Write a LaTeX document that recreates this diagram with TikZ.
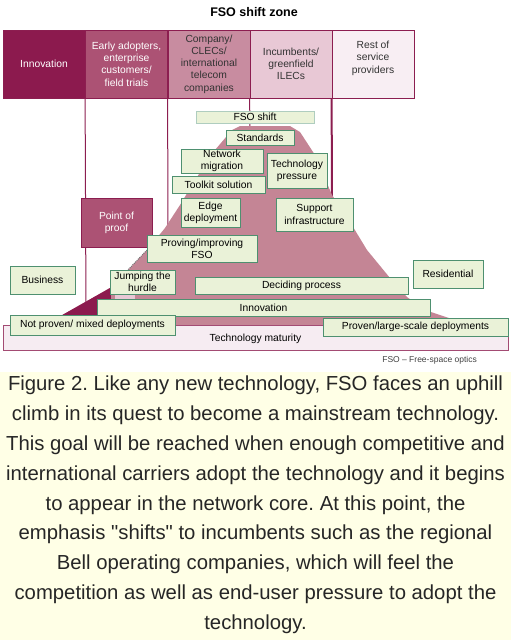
\documentclass[tikz,border=0pt]{standalone}
\usepackage{fontspec}
\setmainfont{Liberation Sans}
\frenchspacing
\definecolor{innovcol}{RGB}{140,26,78}
\definecolor{earlycol}{RGB}{172,82,116}
\definecolor{compcol}{RGB}{200,140,160}
\definecolor{incumbcol}{RGB}{232,200,213}
\definecolor{restcol}{RGB}{248,238,243}
\definecolor{zoneedge}{RGB}{140,30,80}
\definecolor{hillcol}{RGB}{196,133,149}
\definecolor{boxfill}{RGB}{234,242,216}
\definecolor{boxedge}{RGB}{78,144,112}
\definecolor{maturefill}{RGB}{246,236,242}
\definecolor{capbg}{RGB}{255,255,230}
\tikzset{
  every node/.style={
    inner sep=0pt,
    align=center,
    font=\fontsize{10.3}{12.3}\selectfont
  },
  zonebox/.style={
    draw=zoneedge,
    line width=0.8pt,
    minimum width=82pt,
    minimum height=68pt
  },
  greenbox/.style={
    draw=boxedge,
    fill=boxfill,
    line width=1pt
  },
  zoneline/.style={
    draw=zoneedge,
    line width=1pt
  }
}
\def\fsohill{(57,326) -- (57,318) -- (110,288) -- (128,270) -- (147,250) -- (165,228)
  -- (180,205) -- (195,180) -- (215,150) -- (232,130) -- (240,126) -- (290,126)
  -- (300,132) -- (315,155) -- (332,195) -- (350,222) -- (367,250) -- (390,278)
  -- (407,297) -- (425,310) -- (455,320) -- (455,326) -- cycle}

\begin{document}
\begin{tikzpicture}[x=1pt,y=-1pt]
  \useasboundingbox (0,0) rectangle (511,640);
  \fill[capbg] (0,372) rectangle (511,640);

  \node[font=\fontsize{12.5}{14}\selectfont\bfseries] (title) at (254,12) {FSO shift zone};

  \node[zonebox, fill=innovcol, text=white] (innov) at (44,64) {Innovation};
  \node[zonebox, fill=earlycol, text=white] (early) at (126.5,64) {Early adopters,\\enterprise\\customers/\\field trials};
  \node[zonebox, fill=compcol, text=black!80] (compco) at (209,64) {Company/\\CLECs/\\international\\telecom\\companies};
  \node[zonebox, fill=incumbcol, text=black!80] (incumb) at (291,64) {Incumbents/\\greenfield\\ILECs};
  \node[zonebox, fill=restcol, text=black!80, text depth=14pt] (rest) at (373,64) {Rest of\\service\\providers};

  \coordinate (earlyend) at (86,315);
  \coordinate (compend) at (168,235);
  \coordinate (incumbend) at (250,130);
  \coordinate (restend) at (332,198);
  \draw[zoneline] (early.south west) -- (earlyend);
  \draw[zoneline] (compco.south west) -- (compend);
  \draw[zoneline] (incumb.south west) -- (incumbend);
  \draw[zoneline, line width=2pt] (rest.south west) -- (restend);

  \fill[hillcol] \fsohill;
  \begin{scope}
    \clip \fsohill;
    \fill[innovcol] (0,280) rectangle (111,330);
  \end{scope}
  \draw[black!55, densely dotted, line width=1pt] (147,250) -- (126,272);
  \fill[incumbcol] (115,294) rectangle (135,299);

  \node[draw=zoneedge!80, fill=maturefill, line width=1pt, minimum width=505pt, minimum height=25pt,
    text height=7pt, text depth=-6pt] (maturity) at (255.5,337.5) {Technology maturity};

  \node[greenbox, draw=boxedge!45, minimum width=118pt, minimum height=12pt] (shift) at (255,117) {FSO shift};
  \node[greenbox, minimum width=68pt, minimum height=15pt] (std) at (260,137.5) {Standards};
  \node[greenbox, minimum width=82pt, minimum height=24pt] (netmig) at (222,161) {Network\\migration};
  \node[greenbox, minimum width=60pt, minimum height=35pt] (techpress) at (297,170.5) {Technology\\pressure};
  \node[greenbox, minimum width=93pt, minimum height=17pt] (toolkit) at (218.5,184.5) {Toolkit solution};
  \node[greenbox, minimum width=59pt, minimum height=29pt] (edge) at (210.5,212.5) {Edge\\deployment};
  \node[greenbox, minimum width=77pt, minimum height=33pt] (support) at (314.5,214.5) {Support\\infrastructure};
  \node[draw=zoneedge, fill=earlycol, text=white, line width=1pt, minimum width=71pt, minimum height=49pt] (proof) at (116.5,222.5) {Point of\\proof};
  \node[greenbox, minimum width=110pt, minimum height=27pt] (proving) at (202,248.5) {Proving/improving\\FSO};
  \node[greenbox, minimum width=65pt, minimum height=28pt] (business) at (42.5,280) {Business};
  \node[greenbox, minimum width=65pt, minimum height=24pt] (hurdle) at (142.5,282) {Jumping the\\hurdle};
  \node[greenbox, minimum width=213pt, minimum height=17pt] (deciding) at (301.5,285.5) {Deciding process};
  \node[greenbox, minimum width=70pt, minimum height=28pt] (resid) at (448,274) {Residential};
  \node[greenbox, minimum width=333pt, minimum height=17pt] (innovbar) at (263.5,307.5) {Innovation};
  \node[greenbox, minimum width=165pt, minimum height=20pt] (notproven) at (92.5,325) {Not proven/ mixed deployments};
  \node[greenbox, minimum width=185pt, minimum height=18pt] (proven) at (415.5,327) {Proven/large-scale deployments};

  \node[anchor=east, font=\fontsize{8.5}{10}\selectfont, text=black!75] (note) at (477,360) {FSO -- Free-space optics};

  \node[anchor=north, font=\fontsize{20.3}{29.8}\selectfont, text=black!85] (caption) at (255.5,376)
    {Figure 2. Like any new technology, FSO faces an uphill\\
     climb in its quest to become a mainstream technology.\\
     This goal will be reached when enough competitive and\\
     international carriers adopt the technology and it begins\\
     to appear in the network core. At this point, the\\
     emphasis \textquotedbl shifts\textquotedbl{} to incumbents such as the regional\\
     Bell operating companies, which will feel the\\
     competition as well as end-user pressure to adopt the\\
     technology.};
\end{tikzpicture}
\end{document}
